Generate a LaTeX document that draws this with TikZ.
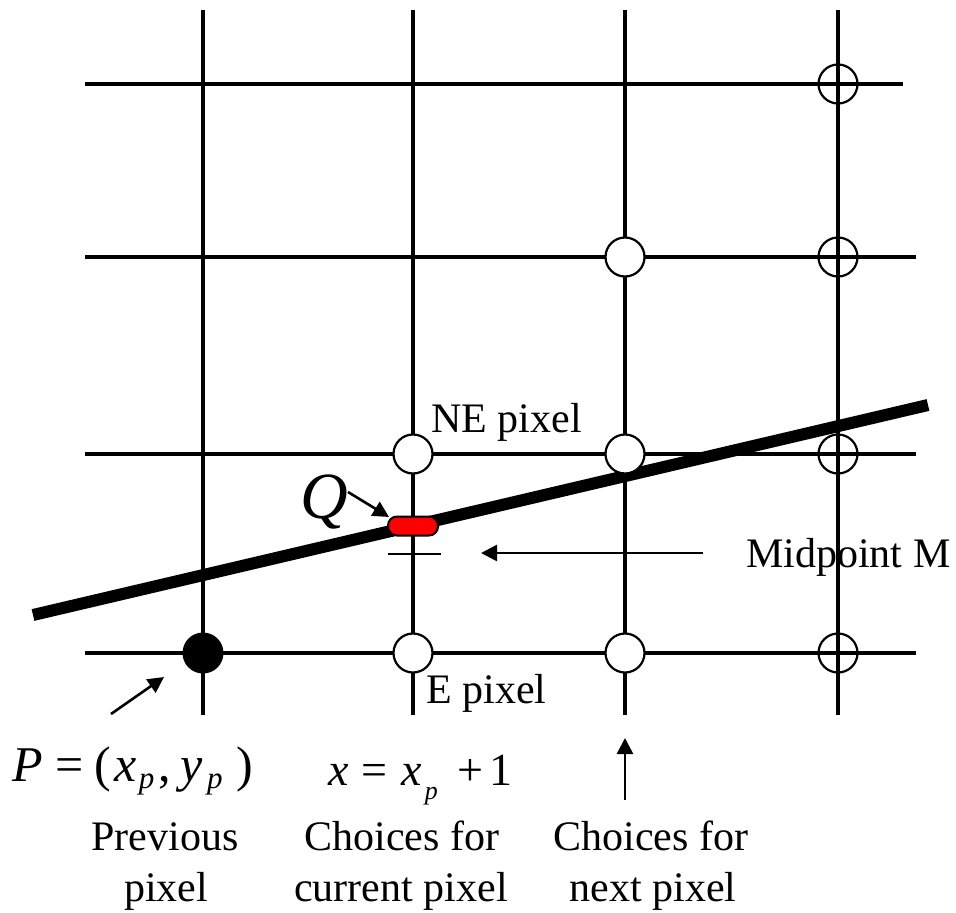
\documentclass[tikz,border=0pt]{standalone}
\usepackage{fontspec}
\setmainfont{Liberation Serif}
\usetikzlibrary{arrows.meta}
\newcommand{\subpa}{\raisebox{-7pt}{\fontsize{31}{31}\selectfont\itshape p}}
\newcommand{\subpb}{\raisebox{-14pt}{\fontsize{26}{26}\selectfont\itshape p}}
\begin{document}
\begin{tikzpicture}[x=1pt,y=-1pt,
  gridline/.style={line width=3.1pt},
  pix/.style={circle,draw,line width=2.2pt,fill=white,minimum size=39pt,inner sep=0pt},
  pixo/.style={circle,draw,line width=2.2pt,minimum size=39pt,inner sep=0pt},
  prevpix/.style={circle,fill=black,minimum size=41pt,inner sep=0pt},
  lbl/.style={font=\fontsize{42}{48}\selectfont,inner sep=0pt},
  mathlbl/.style={font=\fontsize{46}{50}\selectfont,inner sep=0pt},
  arr/.style={line width=2.6pt,-{Triangle[length=16pt,width=16pt]}},
  thickline/.style={line width=12pt},
  qbox/.style={draw,fill=red,rounded corners=9pt,minimum width=50pt,minimum height=19pt,line width=2pt,inner sep=0pt}]
\useasboundingbox (0,0) rectangle (956,913);

% grid
\foreach \x [count=\i] in {203,413,625,838}{
  \coordinate (vt\i) at (\x,10);
  \coordinate (vb\i) at (\x,715);
  \draw[gridline] (vt\i) -- (vb\i);
}
\coordinate (h1l) at (85,84);  \coordinate (h1r) at (903,84);
\coordinate (h2l) at (85,257); \coordinate (h2r) at (916,257);
\coordinate (h3l) at (85,454); \coordinate (h3r) at (916,454);
\coordinate (h4l) at (85,653); \coordinate (h4r) at (916,653);
\draw[gridline] (h1l) -- (h1r);
\draw[gridline] (h2l) -- (h2r);
\draw[gridline] (h3l) -- (h3r);
\draw[gridline] (h4l) -- (h4r);

% the line
\coordinate (ls) at (33,615);
\coordinate (le) at (928,405);
\draw[thickline] (ls) -- (le);

% pixels
\node[pixo] (c41) at (838,84) {};
\node[pix]  (c32) at (625,257) {};
\node[pixo] (c42) at (838,257) {};
\node[pix]  (ne)  at (413,454) {};
\node[pix]  (c33) at (625,454) {};
\node[pixo] (c43) at (838,454) {};
\node[pix]  (e)   at (413,653) {};
\node[pix]  (c34) at (625,653) {};
\node[pixo] (c44) at (838,653) {};
\node[prevpix] (prev) at (203,653) {};

% Q box
\node[qbox] (q) at (413,526) {};

% midpoint tick
\coordinate (mtl) at (388,554);
\coordinate (mtr) at (441,554);
\draw[line width=2.5pt] (mtl) -- (mtr);

% labels
\node[lbl,anchor=base west] (nelbl) at (431,432) {NE pixel};
\node[lbl,anchor=base west] (elbl) at (426,703) {E pixel};
\node[lbl,anchor=base west] (mlbl) at (746,567) {Midpoint M};
\node[inner sep=0pt,anchor=base west,font=\fontsize{66}{66}\selectfont\itshape] (qlbl) at (300,518) {Q};

% arrows
\coordinate (qas) at (348,492);
\coordinate (qae) at (389,517);
\draw[arr] (qas) -- (qae);
\coordinate (mas) at (703,553);
\coordinate (mae) at (481,553);
\draw[arr] (mas) -- (mae);
\coordinate (pas) at (111,714);
\coordinate (pae) at (164,677);
\draw[arr] (pas) -- (pae);
\coordinate (uas) at (625,800);
\coordinate (uae) at (625,738);
\draw[arr] (uas) -- (uae);

% formulas
\node[inner sep=0pt,font=\fontsize{50}{54}\selectfont,anchor=base west] (pform) at (12,781)
  {\textit{P}\kern13pt=\kern11pt(\kern3pt\textit{x}\kern2pt\subpa\kern4pt,\kern10pt\textit{y}\kern4pt\subpa\kern14pt)};
\node[mathlbl,anchor=base west] (xform) at (328,785)
  {\textit{x}\kern13pt=\kern14pt\textit{x}\kern3pt\subpb\kern20pt+\kern6pt1};

% bottom captions
\node[lbl,anchor=base] (prev1) at (165,850) {Previous};
\node[lbl,anchor=base] (prev2) at (166,901) {pixel};
\node[lbl,anchor=base] (cur1) at (402,850) {Choices for};
\node[lbl,anchor=base] (cur2) at (401,901) {current pixel};
\node[lbl,anchor=base] (nxt1) at (651,850) {Choices for};
\node[lbl,anchor=base] (nxt2) at (653,901) {next pixel};
\end{tikzpicture}
\end{document}
